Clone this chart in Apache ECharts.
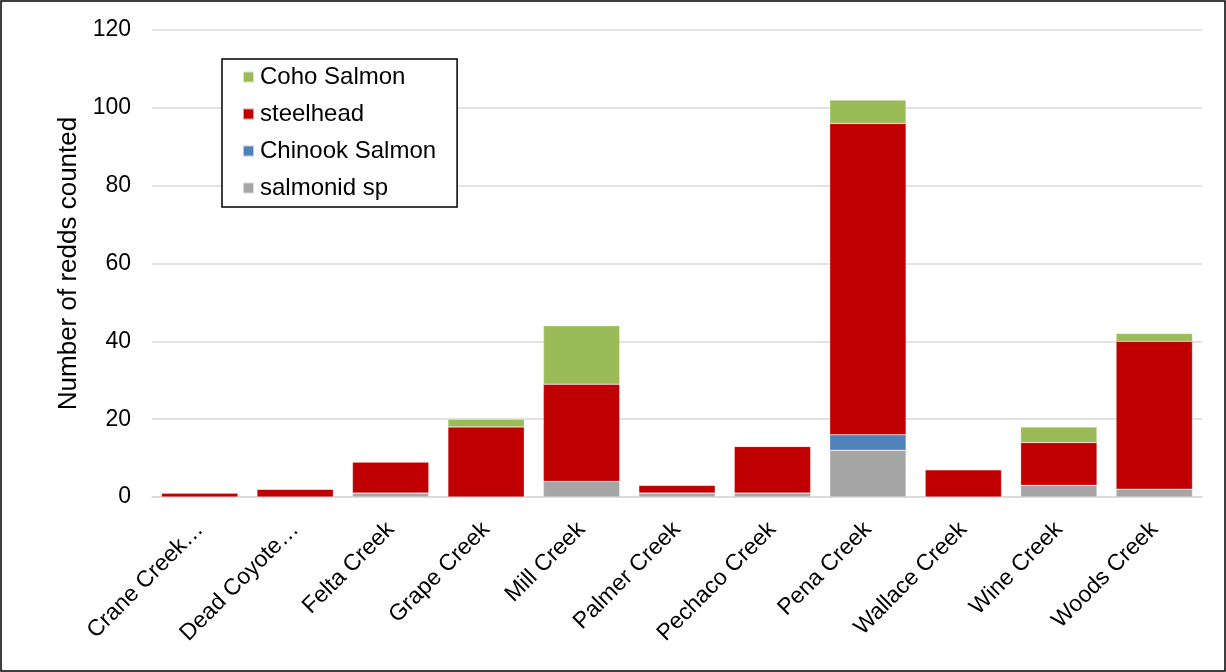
<!DOCTYPE html>
<html>
<head>
<meta charset="utf-8">
<script src="https://cdn.jsdelivr.net/npm/echarts@6/dist/echarts.min.js"></script>
<style>
  html, body { margin: 0; padding: 0; background: #fff; }
  #chart { width: 1226px; height: 672px; }
</style>
</head>
<body>
<div id="chart"></div>
<script>
// Redd counts per creek, by species
const creeks = ['Crane Creek…', 'Dead Coyote…', 'Felta Creek', 'Grape Creek', 'Mill Creek',
  'Palmer Creek', 'Pechaco Creek', 'Pena Creek', 'Wallace Creek', 'Wine Creek', 'Woods Creek'];
const salmonidSp = [0, 0, 1, 0, 4, 1, 1, 12, 0, 3, 2];
const chinook    = [0, 0, 0, 0, 0, 0, 0, 4, 0, 0, 0];
const steelhead  = [1, 2, 8, 18, 25, 2, 12, 80, 7, 11, 38];
const coho       = [0, 0, 0, 2, 15, 0, 0, 6, 0, 4, 2];
const yTicks = [0, 20, 40, 60, 80, 100, 120];

const font = 'Liberation Sans, Arial, sans-serif';

function stackSeries(name, data, color) {
  return {
    name, type: 'bar', stack: 'redds', data,
    barCategoryGap: '20%',
    itemStyle: { color, borderColor: 'rgba(255,255,255,0.6)', borderWidth: 0.5 },
    emphasis: { disabled: true }
  };
}

const chart = echarts.init(document.getElementById('chart'), null, { renderer: 'canvas' });
chart.setOption({
  animation: false,
  backgroundColor: '#fff',
  textStyle: { fontFamily: font },
  graphic: [{
    type: 'rect', silent: true, z: 100,
    shape: { x: 1, y: 1, width: 1224, height: 670 },
    style: { fill: 'none', stroke: '#000', lineWidth: 1.5 }
  }],
  grid: { left: 152, right: 24, top: 30, bottom: 175, containLabel: false },
  legend: {
    orient: 'vertical', left: 222, top: 59,
    data: ['Coho Salmon', 'steelhead', 'Chinook Salmon', 'salmonid sp'],
    itemWidth: 11, itemHeight: 11, itemGap: 13,
    padding: [6, 21, 7, 20],
    borderColor: '#000', borderWidth: 1.5, backgroundColor: '#fff',
    icon: 'rect',
    textStyle: { fontSize: 24, color: '#000', fontFamily: font, padding: [0, 0, 0, 1] }
  },
  xAxis: {
    type: 'category', data: creeks,
    axisLine: { lineStyle: { color: '#d9d9d9', width: 1.5 } },
    axisTick: { show: false },
    axisLabel: { rotate: 45, fontSize: 23, color: '#000', margin: 29, interval: 0, fontFamily: font }
  },
  yAxis: {
    type: 'value', min: yTicks[0], max: yTicks[yTicks.length - 1], interval: 20,
    name: 'Number of redds counted', nameLocation: 'middle', nameGap: 70, nameRotate: 90,
    nameTextStyle: { fontSize: 26, color: '#000', fontFamily: font },
    axisLine: { show: false }, axisTick: { show: false },
    axisLabel: { fontSize: 23, color: '#000', margin: 21, fontFamily: font },
    splitLine: { lineStyle: { color: '#d9d9d9', width: 1.5 } }
  },
  series: [
    stackSeries('salmonid sp', salmonidSp, '#A6A6A6'),
    stackSeries('Chinook Salmon', chinook, '#4F81BD'),
    stackSeries('steelhead', steelhead, '#C00000'),
    stackSeries('Coho Salmon', coho, '#9BBB59')
  ]
});
</script>
</body>
</html>
